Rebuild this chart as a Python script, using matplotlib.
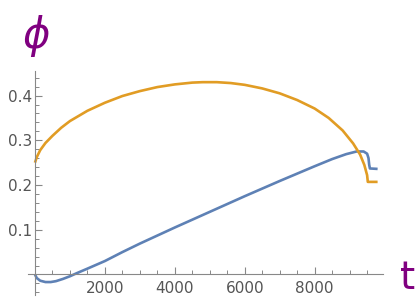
import numpy as np
import matplotlib.pyplot as plt
from matplotlib.ticker import MultipleLocator

# values
t_orange = [0, 50, 150, 300, 500, 750, 1000, 1500, 2000, 2500, 3000, 3500, 4000,
            4500, 4800, 5200, 5600, 6000, 6500, 7000, 7500, 8000, 8400, 8800,
            9100, 9300, 9420, 9500, 9520, 9800]
phi_orange = [0.25, 0.262, 0.278, 0.294, 0.31, 0.328, 0.343, 0.366, 0.384, 0.399,
              0.41, 0.419, 0.425, 0.429, 0.43, 0.43, 0.428, 0.424, 0.416, 0.405,
              0.39, 0.371, 0.35, 0.322, 0.293, 0.268, 0.245, 0.222, 0.207, 0.207]

t_blue = [0, 50, 150, 300, 450, 600, 800, 1000, 1200, 1500, 2000, 2500, 3000, 4000,
          5000, 6000, 7000, 8000, 8500, 8900, 9200, 9400, 9500, 9540, 9560, 9580,
          9800]
phi_blue = [0.0, -0.008, -0.014, -0.017, -0.017, -0.015, -0.01, -0.004, 0.003, 0.013,
            0.03, 0.05, 0.069, 0.105, 0.14, 0.175, 0.209, 0.242, 0.258, 0.269,
            0.275, 0.275, 0.27, 0.26, 0.245, 0.237, 0.236]

blue = "#5E81B5"
orange = "#E19C24"
purple = "#800080"
grey = "#555555"

fig = plt.figure(figsize=(4.17, 3.04), dpi=100)
ax = fig.add_axes([0.0671, 0.031, 0.851, 0.7355])

ax.plot(t_blue, phi_blue, color=blue, lw=1.9, solid_capstyle="butt")
ax.plot(t_orange, phi_orange, color=orange, lw=1.9, solid_capstyle="butt")

ax.set_xlim(-200, 9950)
ax.set_ylim(-0.045, 0.455)

for s in ["top", "right"]:
    ax.spines[s].set_visible(False)
ax.spines["left"].set_position(("data", 0))
ax.spines["bottom"].set_position(("data", 0))
for s in ["left", "bottom"]:
    ax.spines[s].set_color("#888888")
    ax.spines[s].set_linewidth(0.8)

ax.set_xticks([2000, 4000, 6000, 8000])
ax.set_yticks([0.1, 0.2, 0.3, 0.4])
ax.set_yticklabels(["0.1", "0.2", "0.3", "0.4"])
ax.xaxis.set_minor_locator(MultipleLocator(500))
ax.yaxis.set_minor_locator(MultipleLocator(0.02))
ax.tick_params(which="major", direction="in", length=5, width=0.8, color="#888888",
               labelcolor=grey, labelsize=11)
ax.tick_params(which="minor", direction="in", length=3, width=0.7, color="#888888")
ax.tick_params(axis="y", pad=2)
ax.tick_params(axis="x", pad=5)

fig.text(0.086, 0.88, r"$\phi$", color=purple, fontsize=30, ha="center", va="center")
fig.text(0.978, 0.085, "t", color=purple, fontsize=28, ha="center", va="center")

fig.savefig("out.png", dpi=100)
